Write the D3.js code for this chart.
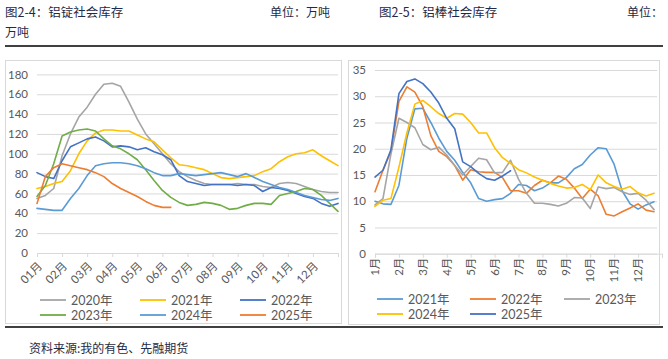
<!DOCTYPE html>
<html><head><meta charset="utf-8">
<script src="https://cdn.jsdelivr.net/npm/d3@7"></script>
<style>
body{margin:0;background:#fff}
svg{display:block}
text{font-family:Lato,"Noto Sans CJK SC",sans-serif}
.cjk{font-family:"Noto Sans CJK SC",sans-serif}
</style></head>
<body><svg id="c" width="668" height="359"></svg>
<script>
// ---------- data ----------
const monthsL = ["01月","02月","03月","04月","05月","06月","07月","08月","09月","10月","11月","12月"];
const monthsR = ["1月","2月","3月","4月","5月","6月","7月","8月","9月","10月","11月","12月"];
const yearsL = ["2020年","2021年","2022年","2023年","2024年","2025年"];
const yearsR = ["2021年","2022年","2023年","2024年","2025年"];
const yTicksL = [0,20,40,60,80,100,120,140,160,180];
const yTicksR = [0,5,10,15,20,25,30,35];
// 铝锭社会库存 (万吨), sampled every 1/3 month
const ingot2020 = [55,58,65,98,120,137,147,160,170,171,168,152,135,120,110,100,90,82,77,73,70,69,69,69,70,69,69,67,66,70,71,70,67,64,62,61,61];
const ingot2021 = [65,67,70,72,83,100,113,121,124,124,123,123,119,115,112,104,96,89,88,86,84,80,76,75,76,77,78,82,85,92,97,100,101,104,98,93,88];
const ingot2022 = [81,77,75,93,107,111,115,117,113,107,108,107,104,106,102,99,94,78,72,70,68,69,69,69,68,69,68,62,66,65,63,60,57,55,50,47,50];
const ingot2023 = [57,68,90,118,122,124,125,123,115,108,105,100,94,84,73,63,56,51,48,49,51,50,48,44,45,48,50,50,49,58,60,62,65,64,58,50,42];
const ingot2024 = [45,44,43,43,55,65,78,88,90,91,91,90,88,85,81,78,78,80,79,78,79,80,81,79,77,80,76,72,69,66,64,61,58,56,54,53,55];
const ingot2025 = [50,77,86,90,88,86,84,81,77,70,65,61,57,52,48,46,46];
// 铝棒社会库存 (万吨), sampled every 1/3 month
const bar2021 = [10,9.5,9.4,13,22,27.6,27.7,25,22,19.5,17.8,15.5,13.5,10.5,10,10.3,10.5,11.5,13.2,13,12,12.5,13.5,13.5,14.5,16.2,17,18.8,20.2,20,17,12,9.5,8.5,9.3,9.9];
const bar2022 = [11.8,15.9,19.5,29,31.8,30.8,28,22.5,19.5,18.5,16.8,14,16,15.6,15.5,15.5,14.5,12,12,11.5,13,14,13.5,14.8,14.2,12.5,10.5,12.3,11,7.5,7.2,8,8.7,9.5,8.3,8];
const bar2023 = [9.3,10.5,19,25.8,25,24,20.8,19.8,20.3,18.8,16.8,15,16.6,18.2,17.9,15.4,15.5,17.8,14.2,11.5,9.6,9.6,9.4,9.1,9.6,10.7,10.6,8.6,12.7,12.4,12.6,11.8,11.3,11.5,10.2,8.4];
const bar2024 = [9,10.2,10.5,16.5,23,28.5,29.2,28,26.7,25.8,26.7,26.6,25,23,23,20.2,18.3,17.2,16,15.4,14.6,14,13.4,12.9,12.5,12.6,13.2,12.2,15,13.5,12.8,12.3,12.8,11.6,11,11.5];
const bar2025 = [14.6,15.9,19.8,30.5,32.8,33.3,32.4,30.8,28.7,25.8,23.8,17.5,16.6,15.3,14.3,14,14.8,15.8];

const colorsL = ["#A5A5A5","#FFC000","#4472C4","#70AD47","#5B9BD5","#ED7D31"];
const colorsR = ["#5B9BD5","#ED7D31","#A5A5A5","#FFC000","#4472C4"];
const seriesL = [ingot2020,ingot2021,ingot2022,ingot2023,ingot2024,ingot2025];
const seriesR = [bar2021,bar2022,bar2023,bar2024,bar2025];

const svg = d3.select("#c");
const txt = "#1f2a44", axisTxt = "#595959", grid = "#d9d9d9";

// ---------- header / footer ----------
svg.append("rect").attr("width",668).attr("height",359).attr("fill","#fff");
function t(x,y,s,opt={}){ return svg.append("text").attr("class","cjk").attr("x",x).attr("y",y)
  .attr("font-size",opt.fs||12).attr("fill",opt.fill||txt).text(s); }
t(5,17,"图2-4：铝锭社会库存",{fs:12.5});
t(270,17,"单位：万吨");
t(5,37,"万吨");
t(379,17,"图2-5：铝棒社会库存",{fs:12.5});
t(627,17,"单位：");
svg.append("line").attr("x1",5).attr("x2",663).attr("y1",46).attr("y2",46).attr("stroke","#000").attr("stroke-width",1.5);
svg.append("line").attr("x1",5).attr("x2",663).attr("y1",327).attr("y2",327).attr("stroke","#000").attr("stroke-width",1.5);
t(29,353,"资料来源:我的有色、先融期货",{fs:12});

// chart frames
svg.append("rect").attr("x",5.5).attr("y",60.5).attr("width",336).attr("height",263).attr("fill","none").attr("stroke",grid);
svg.append("rect").attr("x",348.5).attr("y",60.5).attr("width",311).attr("height",264).attr("fill","none").attr("stroke",grid);

function drawChart(cfg){
  const x = d3.scaleLinear().domain([0,12]).range(cfg.xr);
  const y = d3.scaleLinear().domain([0,cfg.ymax]).range(cfg.yr);
  const g = svg.append("g");
  // gridlines + y labels
  const ya = g.append("g").attr("transform",`translate(${cfg.xr[0]},0)`)
    .call(d3.axisLeft(y).tickValues(cfg.yticks).tickSize(-(cfg.gridEnd-cfg.xr[0])).tickPadding(cfg.ypad));
  ya.select(".domain").remove();
  ya.selectAll(".tick line").attr("stroke",grid).attr("stroke-width",1);
  ya.selectAll(".tick text").attr("fill",axisTxt).attr("font-size",11.5).attr("font-family","Lato, sans-serif");
  // x axis
  const xa = g.append("g").attr("transform",`translate(0,${cfg.yr[0]})`)
    .call(d3.axisBottom(x).tickValues(d3.range(0,13)).tickSize(4).tickFormat(""));
  xa.select(".domain").attr("stroke",grid);
  xa.selectAll(".tick line").attr("stroke",grid);
  // x labels
  cfg.labels.forEach((s,i)=>{
    const px = x(i);
    const tx = g.append("text").attr("font-size",11.5).attr("fill",axisTxt).attr("text-anchor","end")
      .attr("dy","0.35em").text(s);
    if(cfg.rot===-45) tx.attr("transform",`translate(${px+3},${cfg.yr[0]+11}) rotate(-45)`);
    else tx.attr("transform",`translate(${px},${cfg.yr[0]+4}) rotate(-90)`);
  });
  // lines
  const line = d3.line().x((d,i)=>x(i/3)).y(d=>y(d));
  cfg.series.forEach((s,k)=>{
    g.append("path").datum(s).attr("d",line).attr("fill","none").attr("stroke",cfg.colors[k])
      .attr("stroke-width",1.6).attr("stroke-linejoin","round").attr("stroke-linecap","round");
  });
  // legend
  cfg.names.forEach((n,k)=>{
    const col = k % 3, row = Math.floor(k/3);
    const lx = cfg.legX[col], ly = cfg.legY[row];
    g.append("line").attr("x1",lx).attr("x2",lx+26).attr("y1",ly).attr("y2",ly)
      .attr("stroke",cfg.colors[k]).attr("stroke-width",1.8);
    g.append("text").attr("x",lx+31).attr("y",ly).attr("dy","0.36em").attr("font-size",12.5)
      .attr("fill",axisTxt).text(n);
  });
}

drawChart({xr:[37,338], gridEnd:338, yr:[253,74.4], ymax:180, yticks:yTicksL, ypad:9,
  labels:monthsL, rot:-45, series:seriesL, colors:colorsL, names:yearsL,
  legX:[40,140,240], legY:[300,315]});
drawChart({xr:[375,662], gridEnd:657, yr:[253.7,70], ymax:35, yticks:yTicksR, ypad:9,
  labels:monthsR, rot:-90, series:seriesR, colors:colorsR, names:yearsR,
  legX:[377,470,564], legY:[299,314]});
</script></body></html>
